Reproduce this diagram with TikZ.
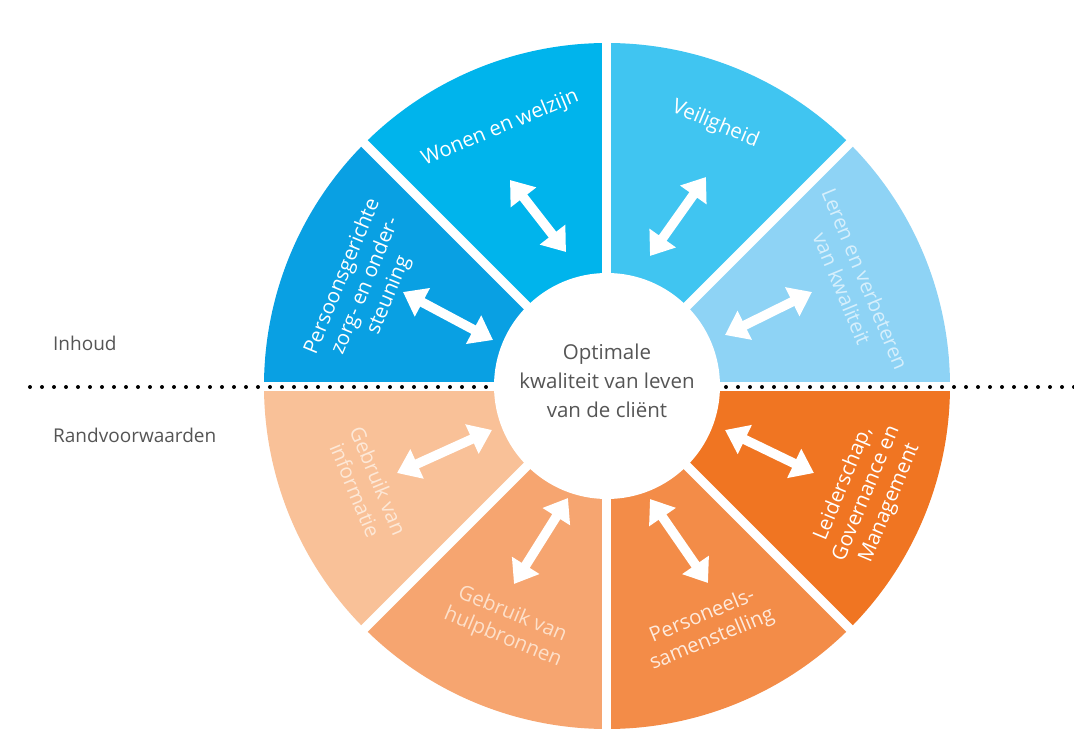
\documentclass[tikz,border=0pt]{standalone}
\usepackage{fontspec}
\setmainfont{Open Sans}
\usetikzlibrary{arrows.meta}
\definecolor{cPers}{RGB}{9,160,227}
\definecolor{cWonen}{RGB}{0,180,236}
\definecolor{cVeil}{RGB}{64,197,241}
\definecolor{cLeren}{RGB}{142,211,245}
\definecolor{cLeid}{RGB}{240,117,34}
\definecolor{cPersl}{RGB}{243,140,72}
\definecolor{cHulp}{RGB}{246,165,112}
\definecolor{cInfo}{RGB}{249,193,152}
\definecolor{cGray}{RGB}{85,85,85}
\definecolor{tLeren}{RGB}{214,239,252}
\definecolor{tInfo}{RGB}{253,232,215}
\definecolor{tHulp}{RGB}{253,224,202}
\definecolor{tPersl}{RGB}{254,234,220}
\tikzset{
  seglabel/.style={font=\fontsize{20.5}{25}\selectfont, align=center, inner sep=0pt, text=white},
  sidelabel/.style={font=\fontsize{19}{23}\selectfont, text=cGray, anchor=west, inner sep=0pt},
  dblarrow/.style={draw=white, line width=9.5pt,
    {Triangle[width=31pt,length=22pt]}-{Triangle[width=31pt,length=22pt]}},
  gapline/.style={draw=white, line width=9pt},
}
\begin{document}
\begin{tikzpicture}[x=1pt,y=1pt]
\useasboundingbox (-607,-345) rectangle (467,386);
\fill[white] (-607,-345) rectangle (467,386);
\def\R{343}
% sectors
\fill[cLeren] (0,0) -- (0:\R) arc[start angle=0, end angle=45, radius=\R] -- cycle;
\fill[cVeil]  (0,0) -- (45:\R) arc[start angle=45, end angle=90, radius=\R] -- cycle;
\fill[cWonen] (0,0) -- (90:\R) arc[start angle=90, end angle=135, radius=\R] -- cycle;
\fill[cPers]  (0,0) -- (135:\R) arc[start angle=135, end angle=180, radius=\R] -- cycle;
\fill[cInfo]  (0,0) -- (180:\R) arc[start angle=180, end angle=225, radius=\R] -- cycle;
\fill[cHulp]  (0,0) -- (225:\R) arc[start angle=225, end angle=270, radius=\R] -- cycle;
\fill[cPersl] (0,0) -- (270:\R) arc[start angle=270, end angle=315, radius=\R] -- cycle;
\fill[cLeid]  (0,0) -- (315:\R) arc[start angle=315, end angle=360, radius=\R] -- cycle;
% gaps
\foreach \a in {0,45,90,135}{
  \draw[gapline] (\a:-350) -- (\a:350);
}
% dotted separator
\coordinate (dl) at (-577,-1);
\coordinate (dr) at (467,-1);
\draw[black, line width=4pt, line cap=round, dash pattern=on 0pt off 12pt] (dl) -- (dr);
% centre
\fill[white] (0,0) circle[radius=113];
\node[font=\fontsize{20.5}{29}\selectfont, text=cGray, align=center, inner sep=0pt] (centre) at (0,5)
  {Optimale\\kwaliteit van leven\\van de cliënt};
% side labels
\node[sidelabel] (inhoud) at (-554,43) {Inhoud};
\node[sidelabel] (rand) at (-554,-49) {Randvoorwaarden};
% segment labels
\node[seglabel, rotate=22.5] (wonen) at (112.5:279) {Wonen en welzijn};
\node[seglabel, rotate=-22.5] (veil) at (67.5:283) {Veiligheid};
\node[seglabel, rotate=-67.5, text=tLeren] (leren) at (22.5:267) {Leren en verbeteren\\van kwaliteit};
\node[seglabel, rotate=67.5] (pers) at (157.5:261) {Persoonsgerichte\\zorg- en onder-\\steuning};
\node[seglabel, rotate=-67.5, text=tInfo] (info) at (202.5:260) {Gebruik van\\informatie};
\node[seglabel, rotate=-22.5, text=tHulp] (hulp) at (247.5:260) {Gebruik van\\hulpbronnen};
\node[seglabel, rotate=22.5, text=tPersl] (persl) at (292.5:262) {Personeels-\\samenstelling};
\node[seglabel, rotate=67.5] (leid) at (-22.5:281) {Leiderschap,\\Governance en\\Management};
% arrows
\coordinate (a1o) at (-204,94);  \coordinate (a1i) at (-114,46);
\coordinate (a2o) at (-97,206);  \coordinate (a2i) at (-41,134);
\coordinate (a3o) at (99,209);   \coordinate (a3i) at (43,130);
\coordinate (a4o) at (205,94);   \coordinate (a4i) at (118,51);
\coordinate (a5o) at (207,-87);  \coordinate (a5i) at (118,-44);
\coordinate (a6o) at (101,-197); \coordinate (a6i) at (43,-113);
\coordinate (a7o) at (-93,-198); \coordinate (a7i) at (-39,-112);
\coordinate (a8o) at (-210,-87); \coordinate (a8i) at (-115,-44);
\foreach \k in {1,...,8}{
  \draw[dblarrow] (a\k o) -- (a\k i);
}
\end{tikzpicture}
\end{document}
